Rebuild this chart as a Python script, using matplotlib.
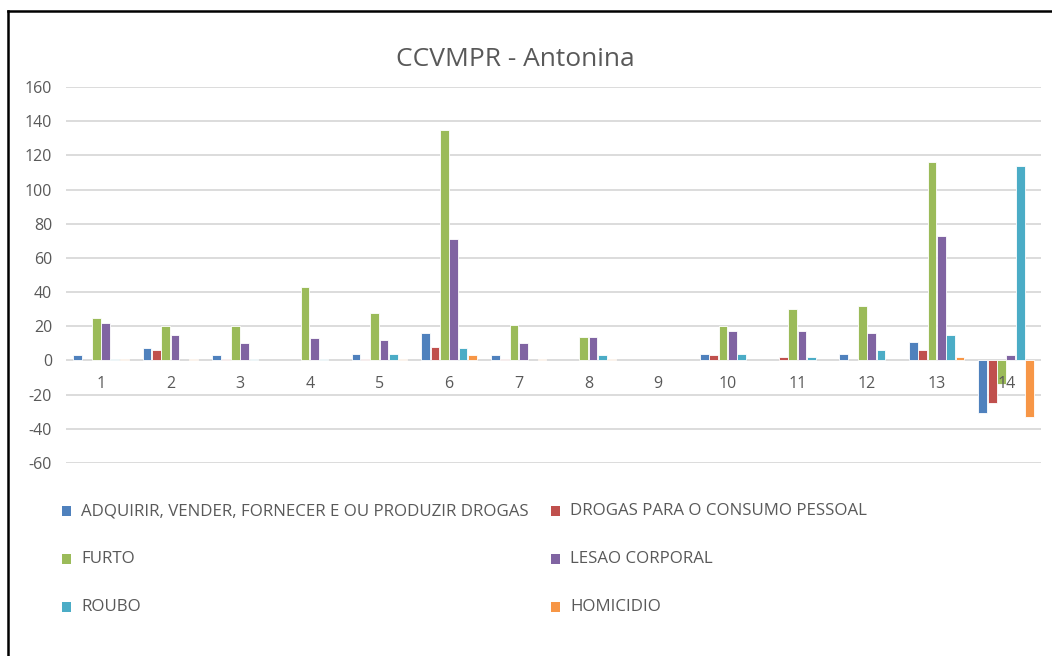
import matplotlib
matplotlib.use("Agg")
import matplotlib.pyplot as plt
from matplotlib.patches import Rectangle
from matplotlib.lines import Line2D
import numpy as np

plt.rcParams['font.family'] = ['Open Sans', 'DejaVu Sans']

categories = ["1", "2", "3", "4", "5", "6", "7", "8", "9", "10", "11", "12", "13", "14"]
series_names = [
    "ADQUIRIR, VENDER, FORNECER E OU PRODUZIR DROGAS",
    "DROGAS PARA O CONSUMO PESSOAL",
    "FURTO",
    "LESAO CORPORAL",
    "ROUBO",
    "HOMICIDIO",
]
adquirir = [3, 7, 3, 0, 4, 16, 3, 0, 0, 4, 0, 4, 11, -31]
drogas_consumo = [0, 6, 1, 0, 1, 8, 1, 0, 0, 3, 2, 0, 6, -25]
furto = [25, 20, 20, 43, 28, 135, 21, 14, 0, 20, 30, 32, 116, -14]
lesao = [22, 15, 10, 13, 12, 71, 10, 14, 0, 17, 17, 16, 73, 3]
roubo = [1, 0, 1, 1, 4, 7, 0, 3, 0, 4, 2, 6, 15, 114]
homicidio = [1, 1, 0, 0, 1, 3, 1, 1, 0, 0, 0, 0, 2, -33]
yticks = [160, 140, 120, 100, 80, 60, 40, 20, 0, -20, -40, -60]

series = [adquirir, drogas_consumo, furto, lesao, roubo, homicidio]
colors = ["#4F81BD", "#C0504D", "#9BBB59", "#8064A2", "#4BACC6", "#F79646"]
text_color = "#595959"

fig = plt.figure(figsize=(10.52, 6.56), dpi=100)
ax = fig.add_axes([66 / 1052, 1 - 463 / 656, (1041 - 66) / 1052, (463 - 87) / 656])

x = np.arange(1, len(categories) + 1)
step = 0.134
width = 0.125
for i, (vals, col) in enumerate(zip(series, colors)):
    offs = (i - 2.5) * step
    heights = [v if v != 0 else np.nan for v in vals]
    ax.bar(x + offs, heights, width=width, color=col, edgecolor="white",
           linewidth=0.6, zorder=2)

for yv in yticks:
    ax.axhline(yv, color="#D9D9D9", linewidth=1.3, zorder=0)

ax.set_xlim(0.5, 14.5)
ax.set_ylim(-60, 160)
ax.set_yticks(yticks)
ax.set_yticklabels([str(v) for v in yticks], color=text_color, fontsize=11.5)
ax.tick_params(axis='y', length=0, pad=10)
ax.set_xticks([])
for s in ax.spines.values():
    s.set_visible(False)
ax.patch.set_alpha(0)

for xi, lab in zip(x, categories):
    ax.annotate(lab, (xi, 0), xytext=(0, -17), textcoords='offset points',
                ha='center', va='center', color=text_color, fontsize=11.5,
                zorder=5)

fig.text(515 / 1052, 1 - 60 / 656, "CCVMPR - Antonina", ha='center', va='center',
         fontsize=19, color=text_color)

# legend
leg_pos = [(62, 511), (551, 511), (62, 559), (551, 559), (62, 607), (551, 607)]
for (px, py), name, col in zip(leg_pos, series_names, colors):
    fig.patches.append(Rectangle((px / 1052, 1 - (py + 5) / 656), 9 / 1052, 10 / 656,
                                 transform=fig.transFigure, facecolor=col,
                                 edgecolor='none'))
    fig.text((px + 19) / 1052, 1 - py / 656, name, ha='left', va='center',
             fontsize=12.2, color=text_color)

# border (left and top)
fig.add_artist(Line2D([8 / 1052, 8 / 1052], [0, 1 - 11 / 656], transform=fig.transFigure,
                      color='black', linewidth=1.8))
fig.add_artist(Line2D([8 / 1052, 1], [1 - 11 / 656, 1 - 11 / 656], transform=fig.transFigure,
                      color='black', linewidth=1.8))

fig.savefig("out.png", dpi=100)
